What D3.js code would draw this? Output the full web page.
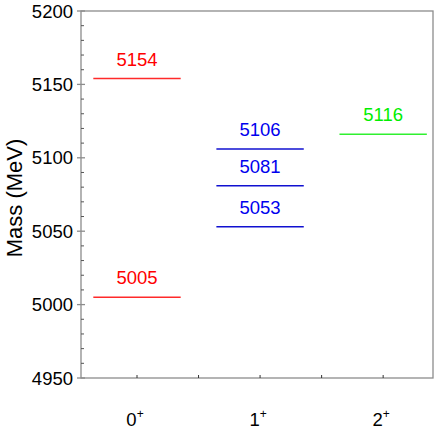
<!DOCTYPE html>
<html><head><meta charset="utf-8">
<script src="https://cdn.jsdelivr.net/npm/d3@7"></script>
<style>body{margin:0;background:#fff}svg{display:block;font-family:"Liberation Sans",Arial,sans-serif}</style>
</head><body><svg id="c" width="436" height="436"></svg>
<script>
const categories = ["0", "1", "2"];
const catIndex = [0, 0, 1, 1, 1, 2];
const masses = [5154, 5005, 5106, 5081, 5053, 5116];
const levelColors = ["#ff2a2a", "#ff2a2a", "#1010d0", "#1010d0", "#1010d0", "#30f030"];
const textColors = ["#ff0000", "#ff0000", "#0000ee", "#0000ee", "#0000ee", "#00ee00"];
const yTicks = [4950, 5000, 5050, 5100, 5150, 5200];

const svg = d3.select("#c");
const L = 81, R = 433, T = 11, B = 378;
const x = d3.scaleLinear().domain([-0.455, 2.405]).range([L, R]);
const y = d3.scaleLinear().domain([4950, 5200]).range([B, T]);
const halfW = 0.355;
const frame = "#8c8c8c";

svg.append("rect").attr("x", L).attr("y", T).attr("width", R - L).attr("height", B - T)
  .attr("fill", "none").attr("stroke", frame).attr("stroke-width", 1.3);

const minor = d3.range(4960, 5200, 10).filter(v => v % 50 !== 0);
svg.selectAll(".ym").data(minor).join("line")
  .attr("x1", L).attr("x2", L + 3).attr("y1", d => y(d)).attr("y2", d => y(d))
  .attr("stroke", "#555").attr("stroke-width", 1);
svg.selectAll(".yM").data(yTicks).join("line")
  .attr("x1", L - 4).attr("x2", L + 4).attr("y1", d => y(d)).attr("y2", d => y(d))
  .attr("stroke", frame).attr("stroke-width", 1.3);
svg.selectAll(".yl").data(yTicks).join("text")
  .attr("x", L - 8).attr("y", d => y(d)).attr("dy", "0.36em")
  .attr("text-anchor", "end").attr("font-size", 18.5).attr("fill", "#000").text(d => d);

const xt = d3.range(0, 2.01, 0.5);
svg.selectAll(".xt").data(xt).join("line")
  .attr("x1", d => x(d)).attr("x2", d => x(d)).attr("y1", B).attr("y2", B - 3)
  .attr("stroke", "#333").attr("stroke-width", 1);

const xl = svg.selectAll(".xl").data(categories).join("text")
  .attr("x", (d, i) => x(i) - 2).attr("y", 426).attr("text-anchor", "middle")
  .attr("font-size", 18.5).attr("fill", "#000");
xl.append("tspan").text(d => d);
xl.append("tspan").attr("font-size", 12).attr("dy", -8).text("+");

svg.append("text").attr("transform", `translate(22,198) rotate(-90)`)
  .attr("text-anchor", "middle").attr("font-size", 22).attr("fill", "#000").text("Mass (MeV)");

svg.selectAll(".lv").data(masses).join("line")
  .attr("x1", (d, i) => x(catIndex[i] - halfW)).attr("x2", (d, i) => x(catIndex[i] + halfW))
  .attr("y1", d => y(d)).attr("y2", d => y(d))
  .attr("stroke", (d, i) => levelColors[i]).attr("stroke-width", 1.6);
svg.selectAll(".lt").data(masses).join("text")
  .attr("x", (d, i) => x(catIndex[i])).attr("y", d => y(d) - 13)
  .attr("text-anchor", "middle").attr("font-size", 18.5)
  .attr("fill", (d, i) => textColors[i]).text(d => d);
</script></body></html>
